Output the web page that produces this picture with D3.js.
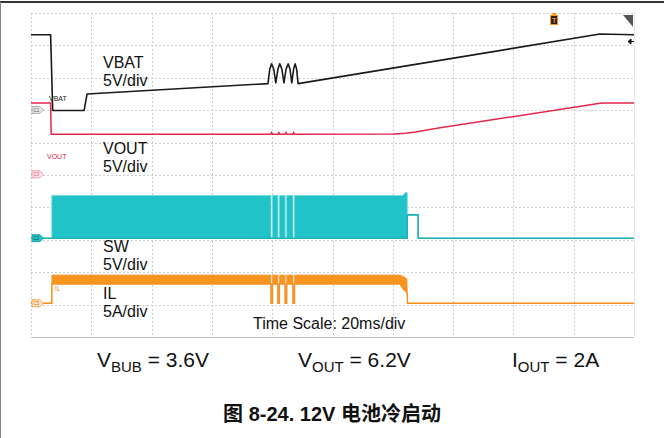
<!DOCTYPE html>
<html><head><meta charset="utf-8">
<script src="https://cdn.jsdelivr.net/npm/d3@7"></script>
<style>
html,body{margin:0;padding:0;background:#fff;}
svg{display:block;font-family:"Liberation Sans",Arial,sans-serif;}
</style></head>
<body><svg id="c" width="664" height="438"></svg>
<script>
// ---- data (time in ms, 20 ms/div; values in V or A) ----
const timeDivs = [0,20,40,60,80,100,120,140,160,180,200];
const vertDivs = [0,1,2,3,4,5,6,7,8,9,10];

const vbatT = [0, 6.5, 7.2, 17.6, 18.6, 78.6, 79.2, 79.8, 80.5, 81.2, 81.9, 82.5, 83.2, 83.9, 84.6, 85.3, 85.9, 86.5, 87.1, 87.6, 88.1, 88.6, 188.7, 200];
const vbatV = [11.6, 11.6, -0.1, -0.1, 2.45, 4.05, 6.3, 7.1, 6.3, 4.15, 6.3, 7.1, 6.3, 4.15, 6.3, 7.1, 6.3, 4.15, 6.3, 7.1, 6.3, 4.05, 11.7, 11.6];

const voutT = [0, 6.5, 6.7, 79.5, 79.8, 80.1, 81.9, 82.2, 82.5, 84.3, 84.6, 84.9, 86.8, 87.1, 87.4, 120.2, 124.2, 127.5, 130.8, 135.7, 188.7, 190.4, 200];
const voutV = [11.0, 11.0, 6.2, 6.2, 6.45, 6.2, 6.2, 6.45, 6.2, 6.2, 6.45, 6.2, 6.2, 6.45, 6.2, 6.22, 6.33, 6.53, 6.79, 7.19, 10.96, 11.0, 11.0];

const swT  = [0, 6.9, 6.9, 79.6, 79.6, 80.1, 80.1, 81.9, 81.9, 82.4, 82.4, 84.3, 84.3, 84.8, 84.8, 86.9, 86.9, 87.4, 87.4, 123.4, 124.2, 124.8, 124.8, 128.4, 128.4, 200];
const swHi = [0, 0, 6.6, 6.6, 0, 0, 6.6, 6.6, 0, 0, 6.6, 6.6, 0, 0, 6.6, 6.6, 0, 0, 6.6, 6.6, 7.1, 7.0, 3.6, 3.6, 0, 0];
const swLo = [0, 0, 0, 0, 0, 0, 0, 0, 0, 0, 0, 0, 0, 0, 0, 0, 0, 0, 0, 0, 0, 0, 3.6, 3.6, 0, 0];

const ilT  = [0, 6.9, 6.9, 79.6, 79.6, 80.1, 80.1, 81.9, 81.9, 82.4, 82.4, 84.3, 84.3, 84.8, 84.8, 86.9, 86.9, 87.4, 87.4, 122.4, 123.7, 124.7, 124.9, 200];
const ilHi = [0, 0, 4.37, 4.37, 0, 0, 4.37, 4.37, 0, 0, 4.37, 4.37, 0, 0, 4.37, 4.37, 0, 0, 4.37, 4.37, 4.1, 3.8, 0, 0];
const ilLo = [0, 0, 2.98, 2.98, 0, 0, 2.98, 2.98, 0, 0, 2.98, 2.98, 0, 0, 2.98, 2.98, 0, 0, 2.98, 2.98, 2.1, 1.7, 0, 0];

const channelNames = ["C1", "C3", "C2", "C5"];
const channelGround = [2.99, 4.98, 6.95, 8.96]; // divisions from top
const channelPerDiv = [5, 5, 5, 5];
const channelLabels = [["VBAT","5V/div"],["VOUT","5V/div"],["SW","5V/div"],["IL","5A/div"]];
const smallLabels = ["VBAT","VOUT","","IL"];
const triggerTime = 173.5;
const timeScaleText = "Time Scale: 20ms/div";
const condLabels = [["V","BUB"," = 3.6V"],["V","OUT"," = 6.2V"],["I","OUT"," = 2A"]];
const title = "图 8-24. 12V 电池冷启动";

// ---- layout ----
const svg = d3.select("#c");
const x = d3.scaleLinear().domain([0,200]).range([31,634]);
const yDiv = d3.scaleLinear().domain([0,10]).range([13,337]);
const chY = (ci, v) => yDiv(channelGround[ci] - v / channelPerDiv[ci]);
const px = v => Math.round(v) + 0.5;

// page frame
svg.append("line").attr("x1",0).attr("x2",664).attr("y1",2).attr("y2",2).attr("stroke","#333").attr("stroke-width",2);
svg.append("line").attr("x1",0.5).attr("x2",0.5).attr("y1",2).attr("y2",438).attr("stroke","#888").attr("stroke-width",1);

// grid
const g = svg.append("g");
g.selectAll(".vg").data(timeDivs).join("line")
  .attr("x1",d=>px(x(d))).attr("x2",d=>px(x(d))).attr("y1",yDiv(0)).attr("y2",yDiv(10))
  .attr("stroke", (d,i)=> i===timeDivs.length-1 ? "#e4e4e4" : "#cfcfcf")
  .attr("stroke-dasharray",(d,i)=> i===timeDivs.length-1 ? null : "2,2");
g.selectAll(".hg").data(vertDivs).join("line")
  .attr("x1",x(0)).attr("x2",x(200)).attr("y1",d=>px(yDiv(d))).attr("y2",d=>px(yDiv(d)))
  .attr("stroke",(d,i)=> i===vertDivs.length-1 ? "#bdbdbd" : "#cfcfcf")
  .attr("stroke-dasharray",(d,i)=> i===vertDivs.length-1 ? null : "2,2");

// IL (orange)
const ilData = ilT.map((t,i)=>({t, hi:ilHi[i], lo:ilLo[i]}));
svg.append("path").datum(ilData)
  .attr("d", d3.area().x(d=>x(d.t)).y0(d=>chY(3,d.lo)).y1(d=>chY(3,d.hi)))
  .attr("fill","#F7941D");
svg.append("path").datum(ilData).attr("d", d3.line().x(d=>x(d.t)).y(d=>chY(3,d.hi)))
  .attr("fill","none").attr("stroke","#F6A04A").attr("stroke-width",0.8);
svg.append("path").datum(ilData).attr("d", d3.line().x(d=>x(d.t)).y(d=>chY(3,d.lo)))
  .attr("fill","none").attr("stroke","#F39020").attr("stroke-width",1.4);

// SW (teal)
const swData = swT.map((t,i)=>({t, hi:swHi[i], lo:swLo[i]}));
svg.append("path").datum(swData)
  .attr("d", d3.area().x(d=>x(d.t)).y0(d=>chY(2,d.lo)).y1(d=>chY(2,d.hi)))
  .attr("fill","#20C4C8");
svg.append("path").datum(swData).attr("d", d3.line().x(d=>x(d.t)).y(d=>chY(2,d.hi)))
  .attr("fill","none").attr("stroke","#6fd6d9").attr("stroke-width",0.8);
svg.append("path").datum(swData).attr("d", d3.line().x(d=>x(d.t)).y(d=>chY(2,d.lo)))
  .attr("fill","none").attr("stroke","#1DB2B6").attr("stroke-width",1.6);

// VOUT (red)
svg.append("path").datum(voutT.map((t,i)=>[t,voutV[i]]))
  .attr("d", d3.line().x(d=>x(d[0])).y(d=>chY(1,d[1])))
  .attr("fill","none").attr("stroke","#E2294C").attr("stroke-width",1.5);

// VBAT (black)
svg.append("path").datum(vbatT.map((t,i)=>[t,vbatV[i]]))
  .attr("d", d3.line().x(d=>x(d[0])).y(d=>chY(0,d[1])))
  .attr("fill","none").attr("stroke","#1a1a1a").attr("stroke-width",1.6).attr("stroke-linejoin","round");

// channel tags
const tagFill = ["#e6e6e6","#fde3ea","#20C4C8","#fde6cc"];
const tagStroke = ["#9a9a9a","#f08aa0","#159a9e","#F39020"];
const tagText = ["#555","#e0607a","#0a5a5c","#d07010"];
channelNames.forEach((n,i)=>{
  const yy = chY(i,0);
  svg.append("path").attr("d",`M32,${yy-3.5}h8l3.5,3.5l-3.5,3.5h-8z`)
    .attr("fill",tagFill[i]).attr("stroke",tagStroke[i]).attr("stroke-width",0.8);
  svg.append("text").attr("x",36.5).attr("y",yy+1.8).attr("font-size",4.5).attr("text-anchor","middle")
    .attr("fill",tagText[i]).text(n);
});
// small channel names near tags
const smallPos = [[49,101,"#222"],[47,158.5,"#E2294C"],[0,0,"#000"],[55,291,"#F39020"]];
smallLabels.forEach((s,i)=>{ if(!s) return;
  svg.append("text").attr("x",smallPos[i][0]).attr("y",smallPos[i][1]).attr("font-size",7)
    .attr("fill",smallPos[i][2]).text(s);
});

// trigger marker and corner
const tx = x(triggerTime);
svg.append("path").attr("d",`M${tx-3},13h6l-3,3z`).attr("fill","#F7941D");
svg.append("rect").attr("x",tx-3.5).attr("y",15.5).attr("width",7).attr("height",9).attr("fill","#222").attr("stroke","#F7941D").attr("stroke-width",1);
svg.append("text").attr("x",tx).attr("y",23).attr("font-size",7).attr("font-weight","bold").attr("text-anchor","middle").attr("fill","#F7941D").text("T");
svg.append("path").attr("d",`M623,15H633V27Z`).attr("fill","#555");
svg.append("path").attr("d",`M628,41.5l3,-2.5v5z M630,41.5H634`).attr("fill","#111").attr("stroke","#111").attr("stroke-width",1);

// channel labels
const labY = [[67.5,85.5],[154,172],[252,270],[298.5,316.5]];
channelLabels.forEach((l,i)=>{
  l.forEach((s,j)=> svg.append("text").attr("x",103).attr("y",labY[i][j]).attr("font-size",16).attr("fill","#111").text(s));
});
svg.append("text").attr("x",253).attr("y",328.5).attr("font-size",16).attr("fill","#111").text(timeScaleText);

// conditions
const condX = [97, 298, 512];
condLabels.forEach((c,i)=>{
  const t = svg.append("text").attr("x",condX[i]).attr("y",367).attr("font-size",21).attr("fill","#111");
  t.append("tspan").text(c[0]);
  t.append("tspan").attr("font-size",15).attr("dy",5).text(c[1]);
  t.append("tspan").attr("dy",-5).text(c[2]);
});

// title
svg.append("text").attr("x",332).attr("y",421).attr("text-anchor","middle")
  .attr("font-family","'Liberation Sans','Noto Sans CJK SC',sans-serif")
  .attr("font-size",20).attr("font-weight","bold").attr("fill","#111").text(title);
</script></body></html>
